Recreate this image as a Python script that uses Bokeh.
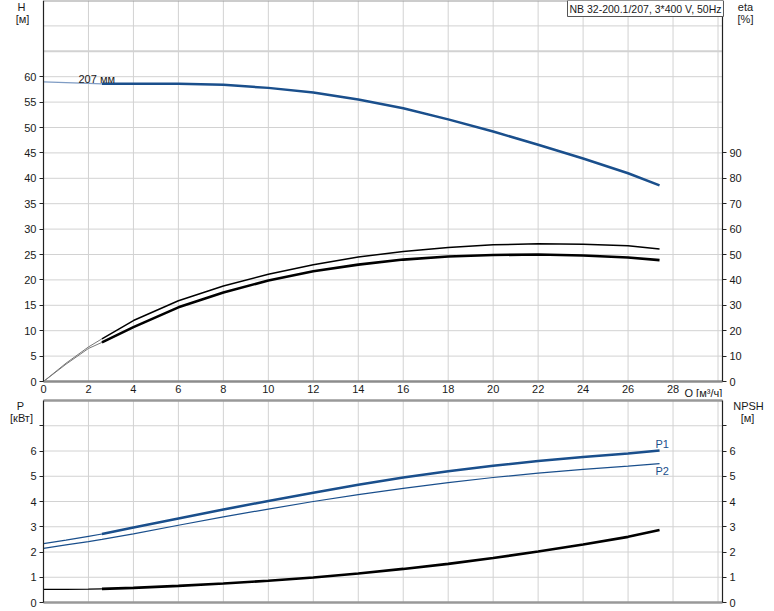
from bokeh.plotting import figure
from bokeh.models import Range1d, LinearAxis, FixedTicker, Label
from bokeh.layouts import column
from bokeh.embed import file_html
from bokeh.resources import INLINE

# ---------------- data ----------------
q = [0, 1, 2, 2.6, 4, 6, 8, 10, 12, 14, 16, 18, 20, 22, 24, 26, 27.4]
head = [59.0, 58.85, 58.7, 58.6, 58.6, 58.6, 58.4, 57.8, 56.9, 55.5, 53.8, 51.6, 49.2, 46.6, 43.9, 41.0, 38.6]
eta_upper = [0, 7.2, 13.6, 16.8, 24.0, 31.8, 37.6, 42.2, 46.0, 49.0, 51.2, 52.8, 53.8, 54.2, 54.0, 53.4, 52.2]
eta_lower = [0, 6.8, 13.0, 15.4, 21.4, 29.2, 35.0, 39.8, 43.4, 46.0, 48.0, 49.2, 49.8, 50.0, 49.6, 48.8, 47.8]
p1 = [2.33, 2.47, 2.62, 2.71, 2.97, 3.33, 3.68, 4.02, 4.35, 4.66, 4.95, 5.20, 5.42, 5.60, 5.76, 5.90, 6.02]
p2 = [2.14, 2.28, 2.41, 2.50, 2.72, 3.06, 3.39, 3.70, 4.00, 4.27, 4.52, 4.75, 4.95, 5.12, 5.27, 5.40, 5.50]
npsh = [0.52, 0.52, 0.53, 0.54, 0.58, 0.66, 0.75, 0.86, 0.99, 1.15, 1.33, 1.53, 1.76, 2.02, 2.30, 2.60, 2.87]
split = 3  # index where the duty range (thick line) begins

q_max = 30.2
h_max = 75
eta_max = 150
p_max = 8
q_ticks = list(range(0, 29, 2))
q_grid = list(range(2, 31, 2))
h_ticks = list(range(0, 61, 5))
h_grid = list(range(5, 71, 5))
eta_ticks = list(range(0, 91, 10))
p_ticks = list(range(0, 8))
p_grid = list(range(1, 8))

title_text = "NB 32-200.1/207, 3*400 V, 50Hz"
diam_text = "207 мм"

BLUE = "#1a4f8c"
GRID = "#d2d2d2"
EDGE = "#999999"
FONT = "Liberation Sans"
TXT = "#1a1a1a"

W = 774
LEFT, RIGHT = 43, 722
S_X = (RIGHT - LEFT) / q_max


def style_axis(ax, tick_out=4):
    ax.major_tick_out = tick_out
    ax.major_tick_in = 0
    ax.minor_tick_line_color = None
    ax.major_label_standoff = 3
    ax.major_label_text_font = FONT
    ax.major_label_text_font_size = "11px"
    ax.major_label_text_color = TXT
    ax.axis_line_color = "#222222"
    ax.axis_line_width = 1.2
    ax.major_tick_line_color = "#222222"


def lab(p, x, y, text, color=TXT, align="center", baseline="middle", size="11px", **kw):
    p.add_layout(Label(x=x, y=y, text=text, text_font=FONT, text_font_size=size,
                       text_color=color, text_align=align, text_baseline=baseline, **kw))


# ---------------- top panel ----------------
TOP_H = 397
TOP_BOTTOM = 381  # pixel row of H = 0
S_H = TOP_BOTTOM / h_max

top = figure(width=W, height=TOP_H,
             x_range=Range1d(-LEFT / S_X, (W - LEFT) / S_X),
             y_range=Range1d(-(TOP_H - TOP_BOTTOM) / S_H, h_max),
             output_backend="svg", toolbar_location=None,
             x_axis_location=None, y_axis_location=None, min_border=0)
top.extra_y_ranges = {"eta": Range1d(-2 * (TOP_H - TOP_BOTTOM) / S_H, eta_max)}
top.outline_line_color = None
top.grid.visible = False

# grid
top.segment(x0=q_grid, y0=[0] * len(q_grid), x1=q_grid, y1=[h_max] * len(q_grid),
            line_color=GRID, line_width=1)
top.segment(x0=[0] * len(h_grid), y0=h_grid, x1=[q_max] * len(h_grid), y1=h_grid,
            line_color=GRID, line_width=[2 if h == 65 else 1 for h in h_grid])
top.segment(x0=[0], y0=[h_max], x1=[q_max], y1=[h_max], line_color=EDGE, line_width=2)

# axes
xa = LinearAxis(ticker=FixedTicker(ticks=q_ticks), fixed_location=0, bounds=(0, q_max))
style_axis(xa, tick_out=0)
xa.axis_line_color = "#8c8c8c"
xa.axis_line_width = 2.5
top.add_layout(xa, "below")

ya = LinearAxis(ticker=FixedTicker(ticks=h_ticks), fixed_location=0, bounds=(0, h_max))
style_axis(ya)
top.add_layout(ya, "left")

ra = LinearAxis(y_range_name="eta", ticker=FixedTicker(ticks=eta_ticks),
                fixed_location=q_max, bounds=(0, eta_max))
style_axis(ra)
top.add_layout(ra, "right")

# curves
top.line(q[:split + 1], head[:split + 1], line_color="#7f9cc4", line_width=1.2)
top.line(q[split:], head[split:], line_color=BLUE, line_width=2.5)
top.line(q[:split + 1], eta_upper[:split + 1], y_range_name="eta", line_color="#777777", line_width=1)
top.line(q[split:], eta_upper[split:], y_range_name="eta", line_color="black", line_width=1.5)
top.line(q[:split + 1], eta_lower[:split + 1], y_range_name="eta", line_color="#777777", line_width=1)
top.line(q[split:], eta_lower[split:], y_range_name="eta", line_color="black", line_width=2.6)

# texts (pixel positions converted to data units)
lab(top, (78 - LEFT) / S_X, (TOP_BOTTOM - 78) / S_H, diam_text, align="left")
lab(top, (21 - LEFT) / S_X, (TOP_BOTTOM - 6) / S_H, "H")
lab(top, (22 - LEFT) / S_X, (TOP_BOTTOM - 18) / S_H, "[м]")
lab(top, (745 - LEFT) / S_X, (TOP_BOTTOM - 6) / S_H, "eta")
lab(top, (745 - LEFT) / S_X, (TOP_BOTTOM - 18) / S_H, "[%]")
lab(top, (684 - LEFT) / S_X, (TOP_BOTTOM - 392) / S_H, "Q [м³/ч]", align="left")
top.add_layout(Label(x=(567 - LEFT) / S_X, y=h_max, text=title_text, text_font=FONT,
                     text_font_size="10.5px", text_color=TXT, text_align="left",
                     text_baseline="top", border_line_color="#555555",
                     background_fill_color="white", padding=2))

# ---------------- bottom panel ----------------
BOT_H = 214
BOT_TOP = 3        # pixel row of P = 8 within the panel
BOT_BOTTOM = 205   # pixel row of P = 0 within the panel
S_P = (BOT_BOTTOM - BOT_TOP) / p_max

bot = figure(width=W, height=BOT_H, x_range=top.x_range,
             y_range=Range1d(-(BOT_H - BOT_BOTTOM) / S_P, p_max + BOT_TOP / S_P),
             output_backend="svg", toolbar_location=None,
             x_axis_location=None, y_axis_location=None, min_border=0)
bot.extra_y_ranges = {"npsh": Range1d(-(BOT_H - BOT_BOTTOM) / S_P, p_max + BOT_TOP / S_P)}
bot.outline_line_color = None
bot.grid.visible = False

bot.segment(x0=q_grid, y0=[0] * len(q_grid), x1=q_grid, y1=[p_max] * len(q_grid),
            line_color=GRID, line_width=1)
bot.segment(x0=[0] * len(p_grid), y0=p_grid, x1=[q_max] * len(p_grid), y1=p_grid,
            line_color=GRID, line_width=1)
bot.segment(x0=[0, 0], y0=[0, p_max], x1=[q_max, q_max], y1=[0, p_max],
            line_color=EDGE, line_width=2.5)

pa = LinearAxis(ticker=FixedTicker(ticks=p_ticks), fixed_location=0, bounds=(0, p_max))
pa.major_label_overrides = {7: ""}
style_axis(pa)
bot.add_layout(pa, "left")
na = LinearAxis(y_range_name="npsh", ticker=FixedTicker(ticks=p_ticks),
                fixed_location=q_max, bounds=(0, p_max))
na.major_label_overrides = {7: ""}
style_axis(na)
bot.add_layout(na, "right")

bot.line(q[:split + 1], p1[:split + 1], line_color=BLUE, line_width=1.1)
bot.line(q[split:], p1[split:], line_color=BLUE, line_width=2.5)
bot.line(q, p2, line_color=BLUE, line_width=1.2)
bot.line(q[:split + 1], npsh[:split + 1], y_range_name="npsh", line_color="black", line_width=1.1)
bot.line(q[split:], npsh[split:], y_range_name="npsh", line_color="black", line_width=2.6)


def prow(y_px):
    return (BOT_BOTTOM - y_px) / S_P


lab(bot, (655 - LEFT) / S_X, prow(46.3), "P1", color=BLUE, align="left")
lab(bot, (655 - LEFT) / S_X, prow(73.7), "P2", color=BLUE, align="left")
lab(bot, (20 - LEFT) / S_X, prow(8), "P")
lab(bot, (21 - LEFT) / S_X, prow(20.5), "[кВт]")
lab(bot, (748 - LEFT) / S_X, prow(8), "NPSH")
lab(bot, (747 - LEFT) / S_X, prow(20.5), "[м]")

layout = column(top, bot, spacing=0)
open("out.html", "w").write(file_html(layout, INLINE))
